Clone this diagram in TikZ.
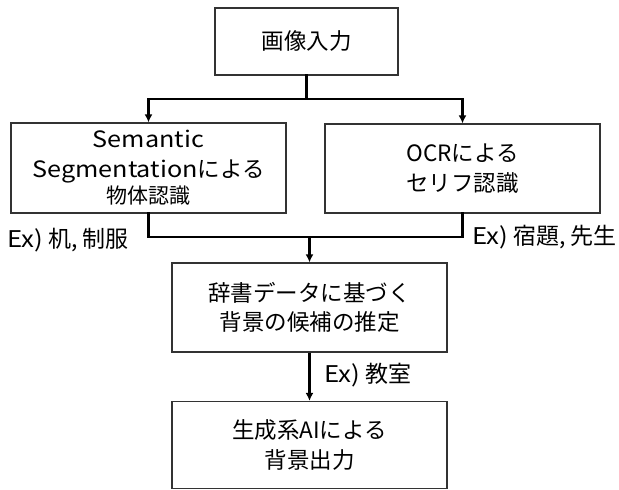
\documentclass[tikz,border=0pt]{standalone}
\usepackage{fontspec}
\setmainfont{Noto Sans CJK JP}
\newfontfamily\latinwide{Noto Sans CJK JP}[FakeStretch=1.12]
\usetikzlibrary{arrows.meta}
\begin{document}
\begin{tikzpicture}[x=1pt,y=-1pt,
  box/.style={draw=black!80,line width=1.2pt,fill=white,align=center,inner sep=0pt,
    font=\fontsize{22.5}{29.5}\selectfont},
  conn/.style={line width=2.6pt,line cap=rect},
  arr/.style={line width=2.6pt,-{Latex[length=8pt,width=8pt]}},
  lbl/.style={inner sep=0pt,font=\fontsize{23}{26}\selectfont}]
\useasboundingbox (0,0) rectangle (619,490);
\node[box,minimum width=183pt,minimum height=67pt] (top) at (306.5,41.5) {画像入力};
\node[box,minimum width=275pt,minimum height=90pt] (left) at (148.5,168) {{\latinwide Semantic}\\{\latinwide Segmentation}による\\[-3pt]{\fontsize{21}{24}\selectfont 物体認識}};
\node[box,minimum width=275pt,minimum height=89pt] (right) at (462.5,168.5) {OCRによる\\セリフ認識};
\node[box,minimum width=275pt,minimum height=89pt] (mid) at (309.5,307.5) {辞書データに基づく\\背景の候補の推定};
\node[box,minimum width=275pt,minimum height=87pt] (bot) at (309.5,445) {生成系AIによる\\背景出力};
\coordinate (j1) at (306.5,99);
\coordinate (j2) at (309.5,237);
\draw[conn] (top.south) -- (j1);
\draw[arr] (j1) -| (left.north);
\draw[arr] (j1) -| (right.north);
\draw[conn] (left.south) |- (j2);
\draw[conn] (right.south) |- (j2);
\draw[arr] (j2) -- (mid.north);
\draw[arr] (mid.south) -- (bot.north);
\node[lbl,anchor=west] (l1) at (7,240) {{\latinwide Ex)}\hspace{5pt}机, 制服};
\node[lbl,anchor=west] (l2) at (472,237) {{\latinwide Ex)}\hspace{5pt}宿題, 先生};
\node[lbl,anchor=west] (l3) at (324,375) {{\latinwide Ex)}\hspace{5pt}教室};
\end{tikzpicture}
\end{document}
